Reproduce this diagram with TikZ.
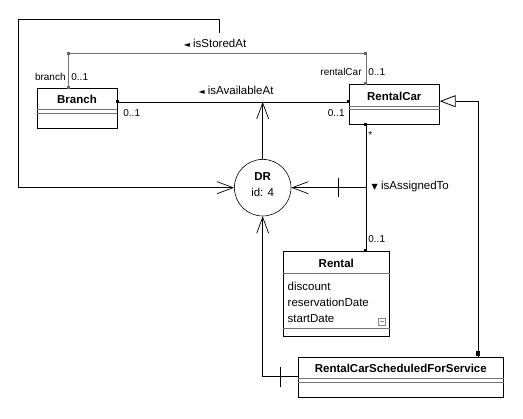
\documentclass[tikz,border=0pt]{standalone}
\usepackage{fontspec}
\setmainfont{Liberation Sans}
\newfontfamily\symfont{DejaVu Sans}
\newcommand\trifont{\symfont\fontsize{8}{8}\selectfont}
\usetikzlibrary{positioning}
\usetikzlibrary{arrows.meta,calc}

\begin{document}
\begin{tikzpicture}[x=1pt, y=-1pt, line width=0.8pt, font=\fontsize{11.5}{13}\selectfont,
  cls/.style={rectangle, draw, inner sep=0pt},
  hd/.style={font=\fontsize{11.5}{13}\selectfont\bfseries, inner sep=0pt},
  sep/.style={draw=black!55, line width=0.8pt},
  lbl/.style={font=\fontsize{10}{12}\selectfont, inner sep=1pt},
  sq/.style={fill, inner sep=0pt, minimum size=3pt},
  ar/.style={-{Straight Barb[length=16pt, width=12pt, line width=0.7pt]}},
  gen/.style={-{Triangle[open, length=16pt, width=12pt, fill=white]}}]
  \useasboundingbox (0,0) rectangle (523,419);

  \node[cls, minimum width=80pt, minimum height=40pt] (branch) at (77,108) {};
  \node[hd] (branchT) at ([yshift=-12pt]branch.north) {Branch};
  \draw[sep] ([yshift=-22pt]branch.north west) -- ([yshift=-22pt]branch.north east);
  \draw[sep] ([yshift=-26pt]branch.north west) -- ([yshift=-26pt]branch.north east);

  \node[cls, minimum width=90pt, minimum height=40pt] (rcar) at (394.3,104.2) {};
  \node[hd] (rcarT) at ([yshift=-12.5pt]rcar.north) {RentalCar};
  \draw[sep] ([yshift=-22.5pt]rcar.north west) -- ([yshift=-22.5pt]rcar.north east);
  \draw[sep] ([yshift=-26pt]rcar.north west) -- ([yshift=-26pt]rcar.north east);

  \node[cls, minimum width=106pt, minimum height=85pt] (rental) at (336.3,293.5) {};
  \node[hd] (rentalT) at ([yshift=-12.5pt]rental.north) {Rental};
  \draw[sep] ([yshift=-22.5pt]rental.north west) -- ([yshift=-22.5pt]rental.north east);
  \draw[sep] ([yshift=7.5pt]rental.south west) -- ([yshift=7.5pt]rental.south east);
  \node[anchor=west, align=left, font=\fontsize{11.5}{16}\selectfont, inner sep=0pt] (rentalA)
    at (287.3,302.7) {discount\\reservationDate\\startDate};
  \draw[black!45, line width=0.6pt] (378,318) rectangle ++(7.5,7.5);
  \draw[black!45, line width=0.6pt] (379.8,321.75) -- ++(4,0);

  \node[cls, minimum width=205pt, minimum height=40pt] (rcsfs) at (400.8,377.2) {};
  \node[hd] (rcsfsT) at ([yshift=-12pt]rcsfs.north) {RentalCarScheduledForService};
  \draw[sep] ([yshift=-22pt]rcsfs.north west) -- ([yshift=-22pt]rcsfs.north east);
  \draw[sep] ([yshift=-26pt]rcsfs.north west) -- ([yshift=-26pt]rcsfs.north east);

  \node[circle, draw, minimum size=56.6pt, inner sep=0pt, line width=0.6pt] (dr) at (262.7,187.7) {};
  \node[hd] (drT) at (262.7,176.7) {DR};
  \node[inner sep=0pt] (drId) at (262.7,192.7) {id: 4};

  \draw[black!55] ([xshift=32pt]branch.north west) coordinate (st1) -- ++(0,-34) coordinate (st2)
    -| ([xshift=17pt]rcar.north west) coordinate (st4);
  \coordinate (st3) at (st4 |- st2);
  \foreach \c in {st1,st2,st3,st4} \node[sq, black!60] (sq-\c) at (\c) {};
  \node[lbl, anchor=east] (brRole) at (67,76.7) {branch};
  \node[lbl, anchor=west] (brMult) at (70,76.7) {0..1};
  \node[lbl, anchor=east] (rcRole) at (363,72) {rentalCar};
  \node[lbl, anchor=west] (rcMult) at (367,72) {0..1};
  \node (storedLbl) at (215,43) {{\trifont ◄} isStoredAt};

  \draw ([yshift=6pt]branch.east) coordinate (av1) -- (av1 -| rcar.west) coordinate (av2);
  \foreach \c in {av1,av2} \node[sq] (sq-\c) at (\c) {};
  \node[lbl, anchor=west] (avMult1) at (122,113) {0..1};
  \node[lbl, anchor=east] (avMult2) at (346,113) {0..1};
  \node (availLbl) at (236,90) {{\trifont ◄} isAvailableAt};

  \draw ([xshift=17pt]rcar.south west) coordinate (as1) -- (as1 |- rental.north) coordinate (as2);
  \foreach \c in {as1,as2} \node[sq] (sq-\c) at (\c) {};
  \node[lbl, anchor=west] (asMult1) at (367,135.5) {*};
  \node[lbl, anchor=west] (asMult2) at (367,239) {0..1};
  \node[anchor=west] (assignLbl) at (368,187) {{\trifont ▼} isAssignedTo};

  \coordinate (storedTop) at (219,33);
  \coordinate (loop) at (18.5,19);
  \draw[ar] (storedTop) |- (loop) |- (dr.west);
  \draw[ar] (dr.north) -- (dr.north |- av1);
  \draw[ar] (as1 |- dr.east) coordinate (as3) -- (dr.east);
  \draw ($(as3)!0.37!(dr.east)$) ++(0,-9.5) -- ++(0,19);
  \draw[ar] ([yshift=0.5pt]rcsfs.west) coordinate (rs1) -| (dr.south);
  \draw ([xshift=-17.6pt]rs1) ++(0,-10) -- ++(0,20);

  \draw[gen] ([xshift=180pt]rcsfs.north west) coordinate (g1) |- ([yshift=3pt]rcar.east);
  \node[fill, minimum width=4pt, minimum height=5pt, inner sep=0pt, anchor=south] (gsq) at (g1) {};
\end{tikzpicture}
\end{document}
